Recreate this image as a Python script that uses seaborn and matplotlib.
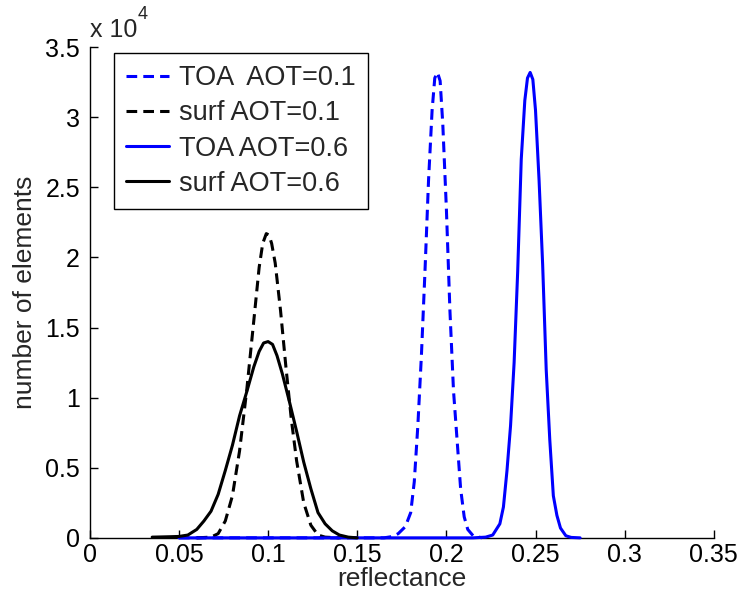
import matplotlib
matplotlib.use("Agg")
import matplotlib.pyplot as plt
import seaborn as sns
import numpy as np

sns.set_style("ticks")
plt.rcParams['font.family'] = ['Liberation Sans', 'DejaVu Sans']

# values (y in units of 1e4 elements)
toa01_x = [0.050, 0.165, 0.170, 0.173, 0.177, 0.180, 0.182, 0.184, 0.186, 0.188, 0.190,
           0.192, 0.1935, 0.195, 0.1965, 0.198, 0.200, 0.202, 0.204, 0.206, 0.208, 0.210,
           0.212, 0.215, 0.220]
toa01_y = [0.0, 0.0, 0.01, 0.03, 0.08, 0.18, 0.40, 0.80, 1.30, 1.90, 2.55,
           3.05, 3.28, 3.32, 3.26, 2.95, 2.35, 1.62, 1.05, 0.70, 0.35, 0.15,
           0.06, 0.015, 0.0]

surf01_x = [0.060, 0.068, 0.072, 0.076, 0.080, 0.084, 0.088, 0.092, 0.095, 0.097, 0.099,
            0.1005, 0.102, 0.104, 0.107, 0.110, 0.113, 0.116, 0.120, 0.124, 0.128, 0.132,
            0.140]
surf01_y = [0.0, 0.005, 0.03, 0.12, 0.30, 0.62, 1.05, 1.55, 1.93, 2.10, 2.17,
            2.16, 2.10, 1.96, 1.62, 1.22, 0.85, 0.55, 0.25, 0.09, 0.02, 0.005,
            0.0]

toa06_x = [0.050, 0.215, 0.222, 0.226, 0.230, 0.232, 0.234, 0.236, 0.238, 0.240, 0.242,
           0.244, 0.2455, 0.247, 0.2485, 0.250, 0.252, 0.254, 0.256, 0.258, 0.260, 0.262,
           0.264, 0.267, 0.270, 0.275]
toa06_y = [0.0, 0.0, 0.005, 0.02, 0.10, 0.22, 0.48, 0.80, 1.25, 1.90, 2.70,
           3.12, 3.28, 3.32, 3.27, 3.05, 2.55, 1.95, 1.20, 0.70, 0.30, 0.16,
           0.07, 0.015, 0.003, 0.0]

surf06_x = [0.035, 0.045, 0.050, 0.055, 0.060, 0.064, 0.068, 0.072, 0.076, 0.080, 0.084,
            0.088, 0.092, 0.095, 0.0975, 0.100, 0.1025, 0.105, 0.108, 0.112, 0.116, 0.120,
            0.124, 0.128, 0.132, 0.136, 0.140, 0.145, 0.150]
surf06_y = [0.005, 0.008, 0.01, 0.02, 0.06, 0.12, 0.19, 0.31, 0.48, 0.66, 0.87,
            1.04, 1.22, 1.33, 1.39, 1.40, 1.38, 1.30, 1.17, 0.97, 0.76, 0.54,
            0.35, 0.18, 0.10, 0.05, 0.02, 0.005, 0.0]

labels = ['TOA  AOT=0.1', 'surf AOT=0.1', 'TOA AOT=0.6', 'surf AOT=0.6']
x_ticks = [0, 0.05, 0.1, 0.15, 0.2, 0.25, 0.3, 0.35]
x_tick_labels = ['0', '0.05', '0.1', '0.15', '0.2', '0.25', '0.3', '0.35']
y_ticks = [0, 0.5, 1, 1.5, 2, 2.5, 3, 3.5]
y_tick_labels = ['0', '0.5', '1', '1.5', '2', '2.5', '3', '3.5']

fig = plt.figure(figsize=(7.42, 6.05), dpi=100)
ax = fig.add_axes([0.121, 0.111, 0.841, 0.811])

dash = (0, (3.5, 2))
series = [
    (toa01_x, toa01_y, 'blue', dash),
    (surf01_x, surf01_y, 'black', dash),
    (toa06_x, toa06_y, 'blue', '-'),
    (surf06_x, surf06_y, 'black', '-'),
]
for (xs, ys, col, ls), lab in zip(series, labels):
    sns.lineplot(x=xs, y=ys, ax=ax, color=col, linestyle=ls, linewidth=2.2,
                 label=lab, estimator=None, sort=False, clip_on=False, zorder=3)

ax.set_xlim(0, 0.35)
ax.set_ylim(0, 3.5)
ax.set_xticks(x_ticks)
ax.set_xticklabels(x_tick_labels)
ax.set_yticks(y_ticks)
ax.set_yticklabels(y_tick_labels)
ax.tick_params(direction='in', length=5.5, width=1, labelsize=18, colors='black')
ax.tick_params(axis='x', pad=4)
ax.tick_params(axis='y', pad=7)
sns.despine(ax=ax)
for s in ['left', 'bottom']:
    ax.spines[s].set_color('black')
    ax.spines[s].set_linewidth(1)

ax.set_xlabel('reflectance', fontsize=19, labelpad=0)
ax.set_ylabel('number of elements', fontsize=19, labelpad=6)

ax.text(0.0, 1.02, 'x 10', transform=ax.transAxes, fontsize=18, ha='left', va='baseline')
ax.text(0.077, 1.058, '4', transform=ax.transAxes, fontsize=13, ha='left', va='baseline')

leg = ax.legend(loc='upper left', bbox_to_anchor=(0.0385, 0.988), borderaxespad=0,
                fontsize=19.5, frameon=True, fancybox=False, framealpha=1,
                edgecolor='black', handlelength=1.6, handletextpad=0.36,
                borderpad=0.45, labelspacing=0.34)
leg.get_frame().set_linewidth(1)

fig.savefig('out.png', dpi=100)
